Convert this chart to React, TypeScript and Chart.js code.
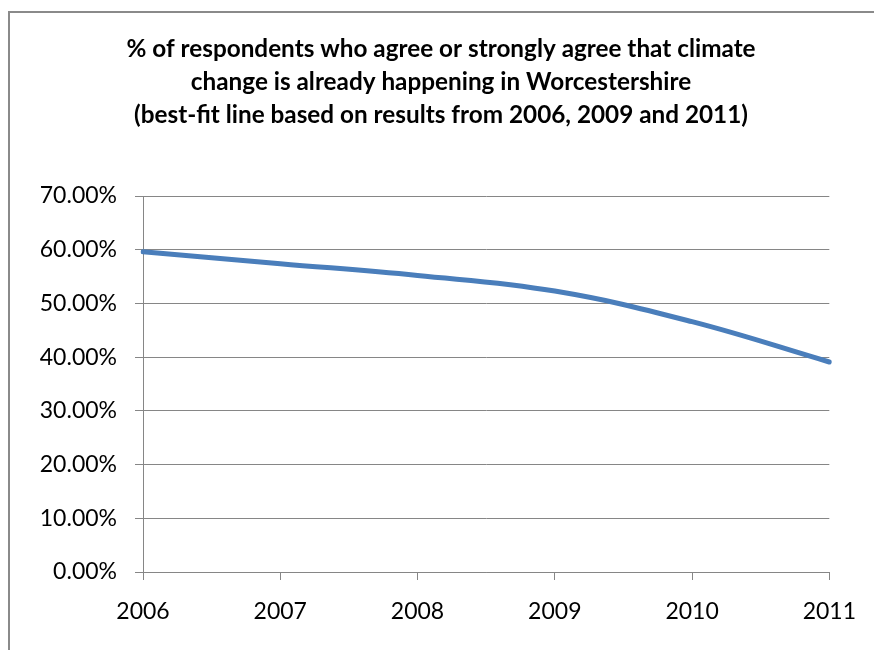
import React, { useEffect, useRef } from "react";
import { Chart, registerables } from "chart.js";

Chart.register(...registerables);

const years: string[] = ["2006", "2007", "2008", "2009", "2010", "2011"];
const agreePct: number[] = [59.6, 57.4, 55.2, 52.3, 46.6, 39.1];
const titleLines: string[] = [
  "% of respondents who agree or strongly agree that climate",
  "change is already happening in Worcestershire",
  "(best-fit line based on results from 2006, 2009 and 2011)",
];

const GRID = "#868686";
const FONT = "Lato, 'Open Sans', sans-serif";

const framePlugin = {
  id: "frameAndTitle",
  beforeDraw(chart: any) {
    const ctx = chart.ctx;
    ctx.save();
    ctx.fillStyle = "#fff";
    ctx.fillRect(0, 0, chart.width, chart.height);
    ctx.strokeStyle = "#8a8a8a";
    ctx.lineWidth = 2;
    ctx.beginPath();
    ctx.moveTo(9, chart.height);
    ctx.lineTo(9, 12);
    ctx.lineTo(chart.width + 4, 12);
    ctx.stroke();
    ctx.restore();
  },
  afterDraw(chart: any) {
    const ctx = chart.ctx;
    ctx.save();
    ctx.fillStyle = "#000";
    ctx.font = "bold 24.3px " + FONT;
    ctx.textAlign = "center";
    ctx.textBaseline = "middle";
    titleLines.forEach((line, i) => {
      ctx.fillText(line, 441, 49 + i * 33);
    });
    ctx.restore();
  },
};

export default function App() {
  const ref = useRef<HTMLCanvasElement | null>(null);

  useEffect(() => {
    document.body.style.margin = "0";
    document.body.style.overflow = "hidden";
    const canvas = ref.current;
    if (!canvas) return;
    const chart = new Chart(canvas, {
      type: "line",
      data: {
        labels: years,
        datasets: [
          {
            data: agreePct,
            borderColor: "#4a7ebb",
            backgroundColor: "#4a7ebb",
            borderWidth: 5,
            borderCapStyle: "round",
            pointRadius: 0,
            pointHoverRadius: 0,
            tension: 0.4,
            fill: false,
          },
        ],
      },
      options: {
        responsive: false,
        animation: false,
        devicePixelRatio: 1,
        layout: { padding: { top: 196, right: 43, bottom: 0, left: 0 } },
        plugins: {
          legend: { display: false },
          tooltip: { enabled: false },
          title: { display: false },
        },
        scales: {
          x: {
            type: "category",
            offset: false,
            afterFit: (scale: any) => {
              scale.height = 78;
            },
            grid: {
              display: true,
              drawOnChartArea: false,
              drawTicks: true,
              tickLength: 8,
              color: GRID,
              lineWidth: 1,
            },
            border: { display: true, color: GRID, width: 1 },
            ticks: {
              color: "#000",
              font: { family: FONT, size: 23 },
              padding: 18,
              maxRotation: 0,
              autoSkip: false,
            },
          },
          y: {
            min: 0,
            max: 70,
            afterFit: (scale: any) => {
              scale.width = 143;
            },
            grid: {
              display: true,
              drawTicks: true,
              tickLength: 8,
              color: GRID,
              lineWidth: 1,
            },
            border: { display: true, color: GRID, width: 1 },
            ticks: {
              stepSize: 10,
              color: "#000",
              font: { family: FONT, size: 23 },
              padding: 18,
              callback: (v: any) => Number(v).toFixed(2) + "%",
            },
          },
        },
      },
      plugins: [framePlugin],
    });
    return () => chart.destroy();
  }, []);

  return (
    <div
      style={{
        position: "absolute",
        left: 0,
        top: 0,
        width: 874,
        height: 650,
        overflow: "hidden",
      }}
    >
      <canvas
        ref={ref}
        width={874}
        height={650}
        style={{ display: "block", width: 874, height: 650 }}
      />
    </div>
  );
}
